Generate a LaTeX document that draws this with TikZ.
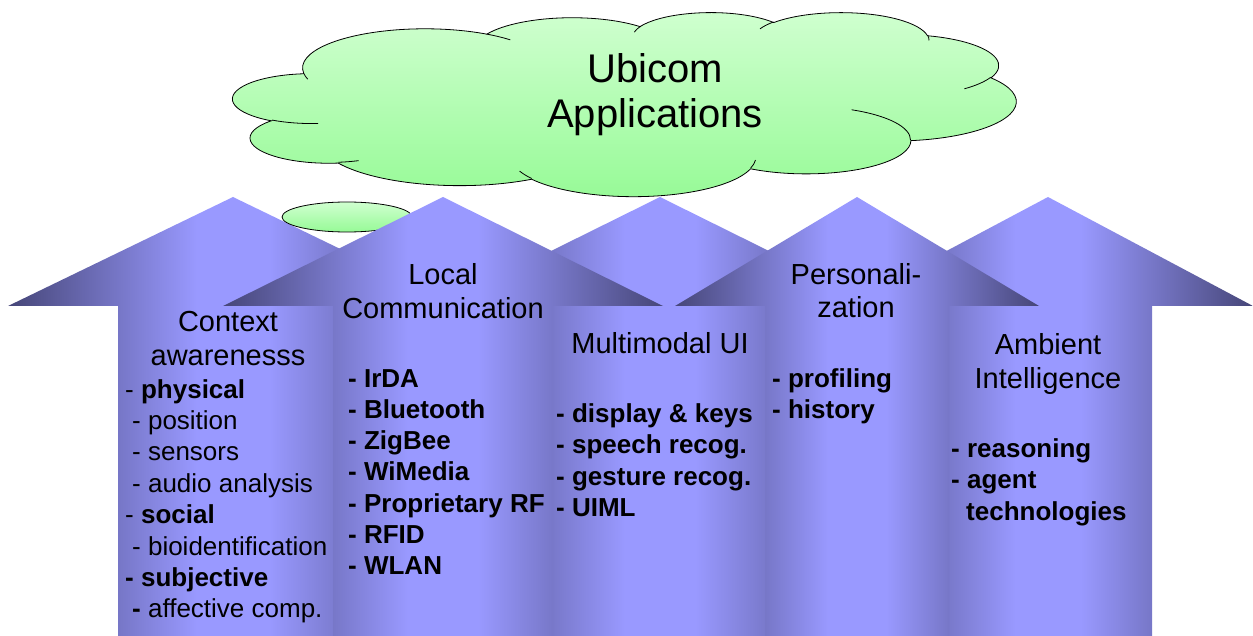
\documentclass[tikz,border=0pt]{standalone}
\usepackage{fontspec}
\setmainfont{Liberation Sans}
\usetikzlibrary{shapes.geometric}
\definecolor{arrdark}{RGB}{70,70,120}
\definecolor{arrlight}{RGB}{153,153,255}
\definecolor{cloudtop}{RGB}{208,255,208}
\definecolor{cloudbot}{RGB}{150,250,150}
\pgfdeclarehorizontalshading{arrowshade}{100bp}{color(0bp)=(arrdark); color(25bp)=(arrdark); color(46bp)=(arrlight); color(54bp)=(arrlight); color(75bp)=(arrdark); color(100bp)=(arrdark)}
% arc of an ellipse given with DrawingML-style (visual) angles
\newcommand\cldarc[4]{arc[x radius=#1, y radius=#2, start angle={vp(#3,#1,#2)}, delta angle={mod(vp(#3+#4,#1,#2)-vp(#3,#1,#2)+720,360)}]}
\tikzset{
  declare function={vp(\t,\a,\b)=atan2(\a*sin(\t),\b*cos(\t));},
  arrowbody/.style={shading=arrowshade},
  headtxt/.style={font=\fontsize{29}{34}\selectfont, anchor=base, inner sep=0pt},
  itemr/.style={font=\fontsize{26}{31}\selectfont, anchor=base west, inner sep=0pt},
  itemb/.style={font=\fontsize{26}{31}\selectfont\bfseries, anchor=base west, inner sep=0pt},
  titletxt/.style={font=\fontsize{40}{45}\selectfont, anchor=base, inner sep=0pt},
  greenfill/.style={draw=black, line width=0.8pt, top color=cloudtop, bottom color=cloudbot},
  cloudline/.style={draw=black, line width=0.8pt}
}
\begin{document}
\begin{tikzpicture}[x=1pt,y=-1pt]
\useasboundingbox (0,0) rectangle (1253,636);
% arrow 1 (Context awareness)
\shade[arrowbody] (8,306) -- (233,197) -- (458,306) -- (348,306) -- (348,636) -- (118,636) -- (118,306) -- cycle;
% arrow 3 (Multimodal UI)
\shade[arrowbody] (440,306) -- (660,197) -- (880,306) -- (767,306) -- (767,636) -- (553,636) -- (553,306) -- cycle;
% arrow 5 (Ambient Intelligence)
\shade[arrowbody] (843,306) -- (1048,197) -- (1253,306) -- (1152,306) -- (1152,636) -- (944,636) -- (944,306) -- cycle;
% small bubble
\node[ellipse, greenfill, minimum width=130pt, minimum height=30pt, inner sep=0pt] (bubble) at (347,217) {};
% arrow 2 (Local Communication)
\shade[arrowbody] (223,306) -- (443,197) -- (663,306) -- (553,306) -- (553,636) -- (333,636) -- (333,306) -- cycle;
% arrow 4 (Personalization)
\shade[arrowbody] (675,306) -- (857,197) -- (1039,306) -- (949,306) -- (949,636) -- (765,636) -- (765,306) -- cycle;
% cloud
\begin{scope}[shift={(233,12)}, x=1.8125pt, y=-0.42593pt]
\path[greenfill] (39.00,143.70)
  \cldarc{67.53}{91.90}{-190.4875}{123.7805}
  \cldarc{53.33}{72.67}{-144.1024}{89.9452}
  \cldarc{43.65}{59.45}{-145.8079}{99.7230}
  \cldarc{48.57}{65.95}{-130.9861}{117.2417}
  \cldarc{53.33}{72.73}{-78.7089}{109.0269}
  \cldarc{67.75}{92.20}{-46.2673}{130.2690}
  \cldarc{57.85}{78.67}{0.6250}{114.0333}
  \cldarc{67.52}{92.15}{22.4516}{115.1726}
  \cldarc{77.20}{105.43}{66.2426}{75.7110}
  \cldarc{43.60}{59.18}{-274.9421}{146.7356}
  \cldarc{43.45}{59.45}{-246.8285}{152.5189}
  -- cycle;
\path[cloudline]
  (46.93,261.77) \cldarc{43.45}{59.45}{86.7420}{26.4295}
  (69.28,348.99) \cldarc{43.60}{59.18}{73.6105}{11.4475}
  (164.78,390.90) \cldarc{67.52}{92.15}{137.6242}{14.0811}
  (288.27,347.51) \cldarc{67.52}{92.15}{6.4533}{15.9984}
  (341.29,229.54) \cldarc{57.85}{78.67}{-70.2924}{70.9174}
  (417.98,153.54) \cldarc{53.33}{72.73}{30.3180}{27.7515}
  (383.24,54.26) \cldarc{48.57}{65.95}{-13.7443}{14.8589}
  (290.78,39.52) \cldarc{48.57}{65.95}{-149.1815}{18.1954}
  (221.41,47.20) \cldarc{43.65}{59.45}{-163.4943}{17.6864}
  (140.00,51.92) \cldarc{67.53}{91.90}{-66.7070}{12.3194}
  (41.27,157.89) \cldarc{67.53}{91.90}{157.6544}{11.8582};
\end{scope}
\coordinate (cloudc) at (625,104);
\node[titletxt] (t1) at (655,83) {Ubicom};
\node[titletxt] (t2) at (655,128) {Applications};
% column 1
\node[headtxt] (h1a) at (228,331) {Context};
\node[headtxt] (h1b) at (228,365) {awarenesss};
\node[itemr] (c1) at (125,398) {- \textbf{physical}};
\node[itemr] (c2) at (132,429.4) {- position};
\node[itemr] (c3) at (132,460.8) {- sensors};
\node[itemr] (c4) at (132,492.2) {- audio analysis};
\node[itemr] (c5) at (125,523.6) {- \textbf{social}};
\node[itemr] (c6) at (132,555) {- bioidentification};
\node[itemb] (c7) at (125,586.4) {- subjective};
\node[itemr] (c8) at (132,617.8) {\textbf{-} affective comp.};
% column 2
\node[headtxt] (h2a) at (443,285) {Local};
\node[headtxt] (h2b) at (443,319) {Communication};
\foreach \t [count=\i] in {IrDA,Bluetooth,ZigBee,WiMedia,Proprietary RF,RFID,WLAN}
  \node[itemb, name=l\i] at (348,{387+(\i-1)*31.3}) {- \t};
% column 3
\node[headtxt] (h3) at (660,353) {Multimodal UI};
\foreach \t [count=\i] in {display \& keys,speech recog.,gesture recog.,UIML}
  \node[itemb, name=m\i] at (556,{422+(\i-1)*31.5}) {- \t};
% column 4
\node[headtxt] (h4a) at (856,285) {Personali-};
\node[headtxt] (h4b) at (856,318) {zation};
\node[itemb] (p1) at (772,387) {- profiling};
\node[itemb] (p2) at (772,418) {- history};
% column 5
\node[headtxt] (h5a) at (1048,354) {Ambient};
\node[headtxt] (h5b) at (1048,388) {Intelligence};
\node[itemb] (a1) at (951,457) {- reasoning};
\node[itemb] (a2) at (951,488.5) {- agent};
\node[itemb] (a3) at (966,520) {technologies};
\end{tikzpicture}
\end{document}
